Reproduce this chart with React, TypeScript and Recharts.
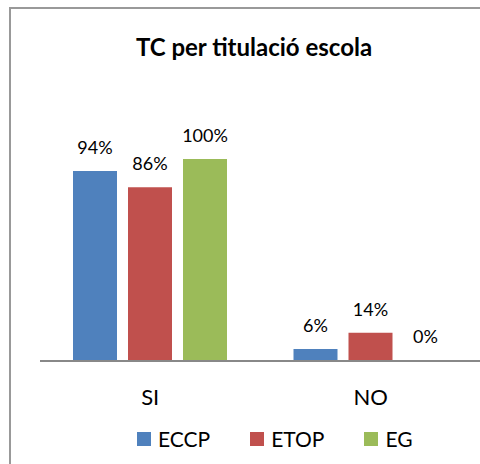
import React from 'react';
import { BarChart, Bar, XAxis, YAxis, LabelList, Legend, Rectangle } from 'recharts';

const title = 'TC per titulació escola';
const categories = ['SI', 'NO'];
const seriesNames = ['ECCP', 'ETOP', 'EG'];
const eccpValues = [0.94, 0.06];
const etopValues = [0.86, 0.14];
const egValues = [1.0, 0.0];
const seriesColors = ['#4F81BD', '#C0504D', '#9BBB59'];

const seriesValues = [eccpValues, etopValues, egValues];
const data = categories.map((c, i) => {
  const row: Record<string, string | number> = { name: c };
  seriesNames.forEach((s, k) => {
    row[s] = seriesValues[k][i];
  });
  return row;
});

const FONT = 'Lato, "Open Sans", sans-serif';
const CHART_W = 520;
const CHART_H = 470;

const renderLegend = (props: any) => {
  const payload = [...(props.payload || [])].sort(
    (a: any, b: any) => seriesNames.indexOf(a.value) - seriesNames.indexOf(b.value)
  );
  return (
    <div
      style={{
        height: 30,
        display: 'flex',
        alignItems: 'center',
        paddingLeft: 97,
        gap: 40,
        fontFamily: FONT,
        fontSize: 21,
        lineHeight: '30px',
        color: '#000',
      }}
    >
      {payload.map((p: any) => (
        <div key={p.value} style={{ display: 'flex', alignItems: 'center' }}>
          <span
            style={{
              width: 14,
              height: 14,
              background: p.color,
              marginRight: 7,
              display: 'inline-block',
            }}
          />
          {p.value}
        </div>
      ))}
    </div>
  );
};

const makeShape = (key: string) => (props: any) => {
  const v = props.payload ? Number(props.payload[key]) : 1;
  if (!v) return <g />;
  return <Rectangle {...props} />;
};

export default function App() {
  return (
    <div
      style={{
        position: 'absolute',
        left: 0,
        top: 0,
        width: 480,
        height: 464,
        overflow: 'hidden',
        background: '#fff',
      }}
    >
      <svg
        width={480}
        height={464}
        style={{ position: 'absolute', left: 0, top: 0 }}
      >
        <rect x={10} y={8} width={600} height={600} fill="none" stroke="#999" strokeWidth={2} />
        <text
          x={254}
          y={56}
          textAnchor="middle"
          fontFamily={FONT}
          fontWeight="bold"
          fontSize={24}
          fill="#000"
        >
          {title}
        </text>
      </svg>
      <div style={{ position: 'absolute', left: 0, top: 0 }}>
        <BarChart
          width={CHART_W}
          height={CHART_H}
          data={data}
          barGap={11}
          margin={{ top: 159, right: 39, left: 40, bottom: 16 }}
        >
          <YAxis hide domain={[0, 1]} />
          <XAxis
            dataKey="name"
            height={63}
            interval={0}
            tickLine={false}
            tickSize={0}
            tickMargin={28}
            axisLine={{ stroke: '#888', strokeWidth: 2 }}
            tick={{ fontFamily: FONT, fontSize: 22, fill: '#000' }}
          />
          <Legend verticalAlign="bottom" height={30} content={renderLegend} />
          {seriesNames.map((s, i) => (
            <Bar
              key={s}
              dataKey={s}
              fill={seriesColors[i]}
              barSize={44}
              minPointSize={1}
              shape={makeShape(s)}
              isAnimationActive={false}
            >
              <LabelList
                dataKey={s}
                position="top"
                offset={17}
                fill="#000"
                fontFamily={FONT}
                fontSize={18}
                formatter={(v: any) => `${Math.round(Number(v) * 100)}%`}
              />
            </Bar>
          ))}
        </BarChart>
      </div>
    </div>
  );
}
